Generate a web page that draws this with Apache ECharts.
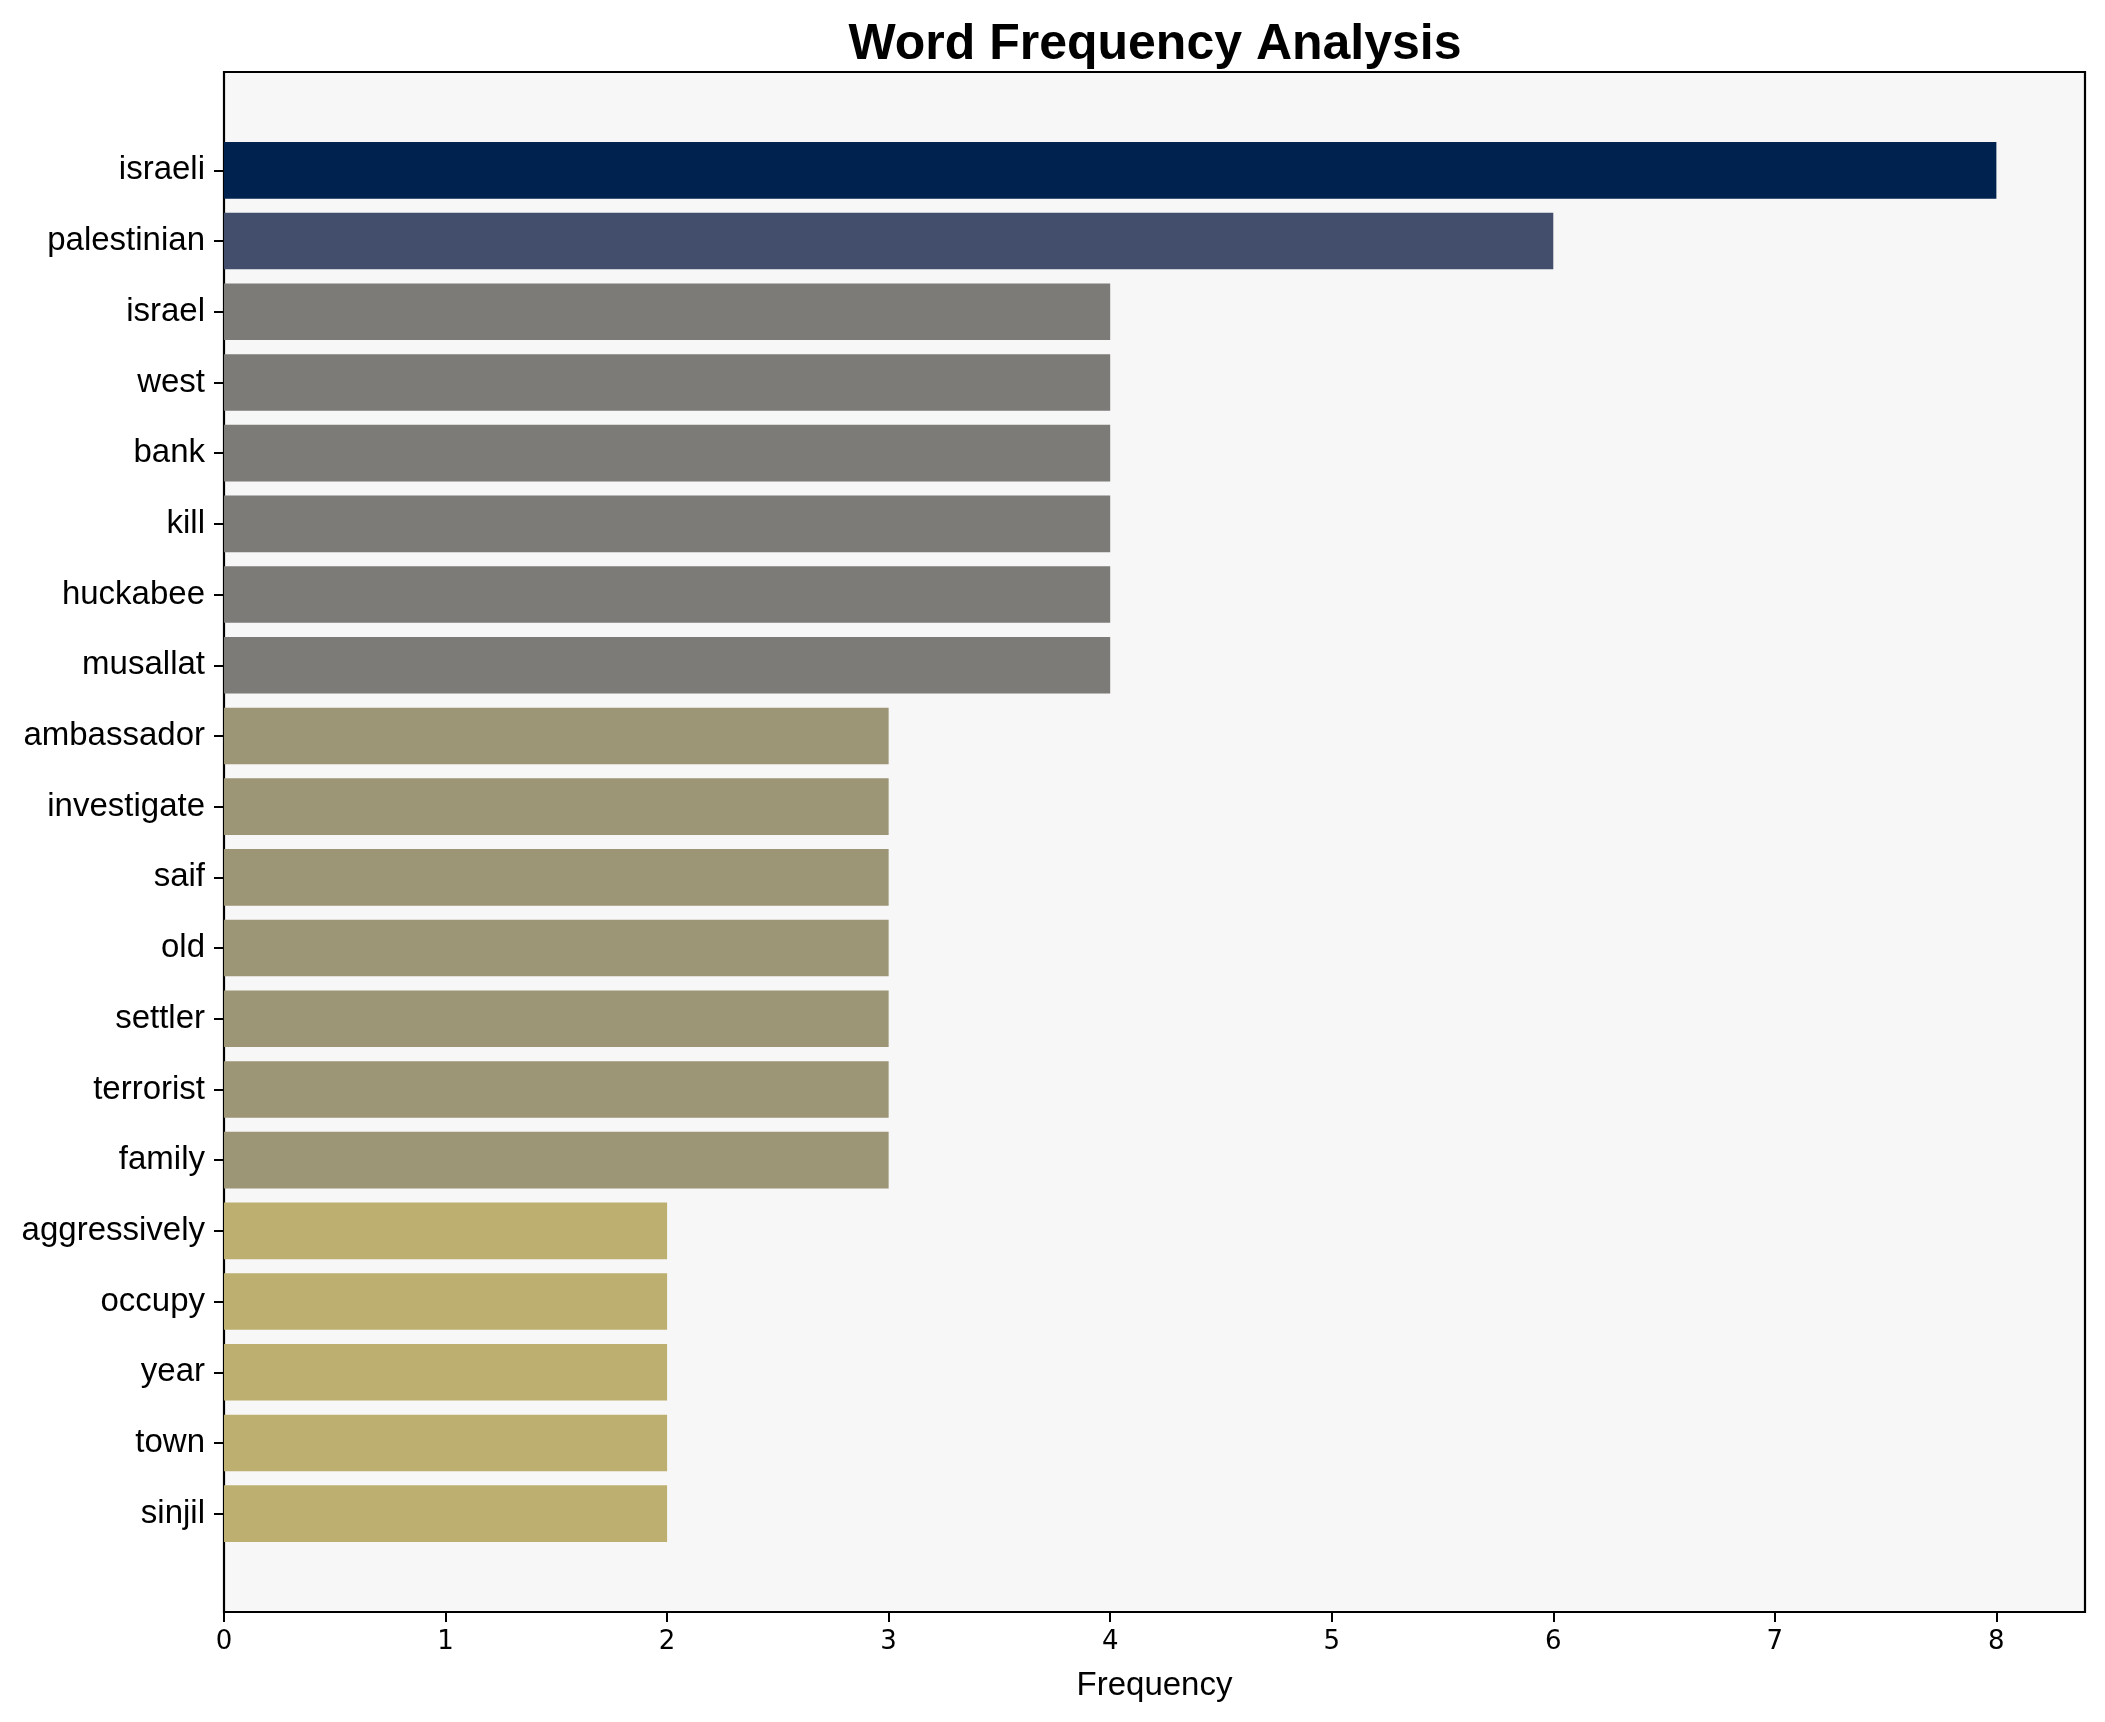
<!DOCTYPE html>
<html>
<head>
<meta charset="utf-8">
<script src="https://cdn.jsdelivr.net/npm/echarts@6/dist/echarts.min.js"></script>
<style>html,body{margin:0;padding:0;background:#fff;}#chart{width:2105px;height:1722px;}</style>
</head>
<body>
<div id="chart"></div>
<script>
const words = ["israeli","palestinian","israel","west","bank","kill","huckabee","musallat","ambassador","investigate","saif","old","settler","terrorist","family","aggressively","occupy","year","town","sinjil"];
const counts = [8,6,4,4,4,4,4,4,3,3,3,3,3,3,3,2,2,2,2,2];
const colorByCount = {8:"#00224e",6:"#434e6c",4:"#7c7b78",3:"#9c9576",2:"#bcaf6f"};
const xTicks = [0,1,2,3,4,5,6,7,8];
const xMax = 8.4;
const FONT = "'Liberation Sans', Arial, sans-serif";
const TICKFONT = "'DejaVu Sans', sans-serif";

const chart = echarts.init(document.getElementById('chart'), null, {renderer:'canvas'});
chart.setOption({
  animation:false,
  backgroundColor:'#ffffff',
  graphic:[{
    type:'text', x:1155, y:20,
    style:{text:'Word Frequency Analysis', font:"bold 50px " + FONT, fill:'#000', textAlign:'center', textVerticalAlign:'top'}
  }],
  grid:[
    {left:224, right:20, top:72, bottom:110, show:true, backgroundColor:'#f7f7f7', borderColor:'#000', borderWidth:2.2},
    {left:224, right:20, top:135, bottom:173}
  ],
  xAxis:[
    {type:'value', gridIndex:0, min:0, max:xMax, interval:1,
     axisLine:{show:false}, splitLine:{show:false},
     axisTick:{show:true, length:10, lineStyle:{color:'#000', width:2}, customValues:xTicks},
     axisLabel:{fontSize:26, color:'#000', fontFamily:TICKFONT, margin:17, customValues:xTicks},
     name:'Frequency', nameLocation:'middle', nameGap:57,
     nameTextStyle:{fontSize:33, color:'#000', fontFamily:FONT}},
    {type:'value', gridIndex:1, min:0, max:xMax, show:false}
  ],
  yAxis:[
    {type:'value', gridIndex:0, show:false},
    {type:'category', gridIndex:1, data:words, inverse:true,
     axisLine:{show:false},
     axisTick:{show:true, alignWithLabel:true, length:10, lineStyle:{color:'#000', width:2}},
     axisLabel:{fontSize:33, color:'#000', fontFamily:FONT, margin:19},
     splitLine:{show:false}}
  ],
  series:[{
    type:'bar', xAxisIndex:1, yAxisIndex:1, barWidth:'80%',
    data: counts.map(v => ({value:v, itemStyle:{color:colorByCount[v]}}))
  }]
});
</script>
</body>
</html>
